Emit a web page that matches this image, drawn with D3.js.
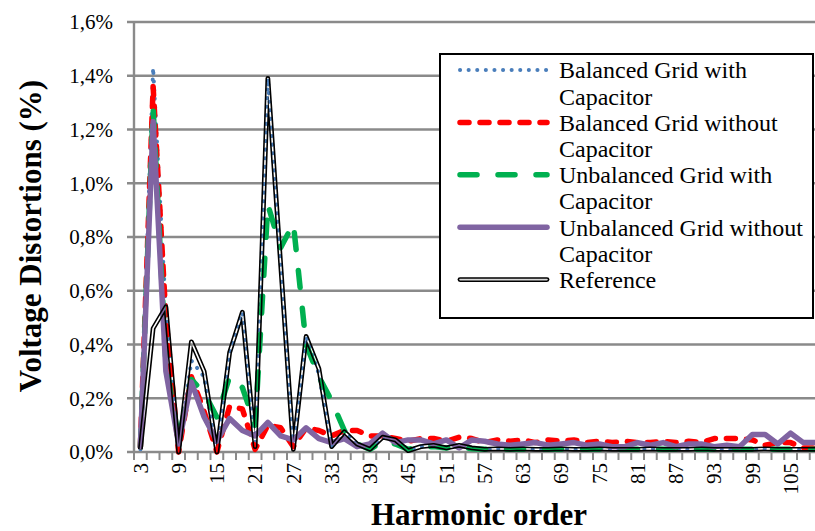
<!DOCTYPE html>
<html><head><meta charset="utf-8">
<script src="https://cdn.jsdelivr.net/npm/d3@7"></script>
<style>
html,body{margin:0;padding:0;background:#fff;overflow:hidden}
svg{display:block;font-family:"Liberation Serif","Times New Roman",serif}
</style></head>
<body><svg id="c" width="815" height="531"></svg>
<script>
const harmonics = [3,5,7,9,11,13,15,17,19,21,23,25,27,29,31,33,35,37,39,41,43,45,47,49,51,53,55,57,59,61,63,65,67,69,71,73,75,77,79,81,83,85,87,89,91,93,95,97,99,101,103,105,107,109];
const xTickLabels = [3,9,15,21,27,33,39,45,51,57,63,69,75,81,87,93,99,105];
const yTicks = [0,0.2,0.4,0.6,0.8,1.0,1.2,1.4,1.6];
const yTickLabels = ["0,0%","0,2%","0,4%","0,6%","0,8%","1,0%","1,2%","1,4%","1,6%"];

const balancedWithCap = [0.01,1.43,0.52,0.00,0.34,0.28,0.00,0.37,0.52,0.02,
 1.39,0.70,0.01,0.43,0.29,0.02,0.075,0.03,0.01,0.055,
 0.045,0.005,0.02,0.025,0.015,0.025,0.015,0.01,0.012,0.01,
 0.012,0.01,0.01,0.012,0.01,0.01,0.012,0.01,0.01,0.01,
 0.012,0.01,0.01,0.01,0.012,0.01,0.01,0.01,0.01,0.012,
 0.01,0.01,0.01,0.01];
const balancedWithoutCap = [0.02,1.36,0.50,0.00,0.28,0.15,0.00,0.17,0.16,0.01,
 0.10,0.09,0.02,0.09,0.08,0.06,0.08,0.08,0.06,0.06,
 0.05,0.04,0.05,0.05,0.04,0.055,0.05,0.035,0.045,0.04,
 0.045,0.035,0.045,0.04,0.045,0.035,0.04,0.035,0.04,0.035,
 0.035,0.04,0.035,0.04,0.035,0.05,0.05,0.05,0.045,0.025,
 0.035,0.035,0.015,0.015];
const unbalancedWithCap = [0.02,1.28,0.33,0.05,0.27,0.22,0.13,0.28,0.24,0.10,
 0.92,0.76,0.85,0.40,0.28,0.19,0.08,0.03,0.01,0.04,
 0.03,0.01,0.02,0.02,0.015,0.02,0.012,0.01,0.01,0.01,
 0.01,0.01,0.01,0.01,0.01,0.01,0.01,0.01,0.01,0.01,
 0.01,0.01,0.01,0.01,0.01,0.01,0.01,0.01,0.01,0.01,
 0.01,0.01,0.01,0.01];
const unbalancedWithoutCap = [0.02,1.23,0.30,0.03,0.26,0.13,0.04,0.125,0.08,0.06,
 0.11,0.06,0.045,0.09,0.05,0.035,0.05,0.02,0.03,0.07,
 0.035,0.045,0.045,0.03,0.045,0.015,0.045,0.04,0.03,0.025,
 0.03,0.035,0.025,0.03,0.035,0.025,0.03,0.02,0.02,0.035,
 0.025,0.035,0.02,0.03,0.03,0.02,0.025,0.02,0.065,0.065,
 0.03,0.07,0.035,0.035];
const reference = [0.01,0.46,0.54,0.00,0.41,0.30,0.00,0.37,0.52,0.02,
 1.39,0.70,0.01,0.43,0.31,0.02,0.075,0.03,0.01,0.055,
 0.045,0.005,0.02,0.025,0.015,0.025,0.015,0.01,0.012,0.01,
 0.012,0.01,0.01,0.012,0.01,0.01,0.012,0.01,0.01,0.01,
 0.012,0.01,0.01,0.01,0.012,0.01,0.01,0.01,0.01,0.012,
 0.01,0.01,0.01,0.01];

const seriesNames = ["Balanced Grid with|Capacitor","Balanced Grid without|Capacitor","Unbalanced Grid with|Capacitor","Unbalanced Grid without|Capacitor","Reference"];

const FONT = '"Liberation Serif","Times New Roman",serif';
const svg = d3.select("#c");
svg.append("rect").attr("width",815).attr("height",531).attr("fill","#fff");

const L = 134, T = 22, B = 452, step = 12.75;
const x = d3.scaleBand().domain(harmonics).range([L, L + step*harmonics.length]).padding(0);
const y = d3.scaleLinear().domain([0,1.6]).range([B,T]);
const cx = h => x(h) + x.bandwidth()/2;
const gridCol = "#8a8a8a";

// gridlines
svg.append("g").selectAll("line").data(yTicks).join("line")
  .attr("x1",127).attr("x2",815).attr("y1",d=>y(d)).attr("y2",d=>y(d))
  .attr("stroke",gridCol).attr("stroke-width",2.4);
// y axis line
svg.append("line").attr("x1",L).attr("x2",L).attr("y1",T).attr("y2",B)
  .attr("stroke",gridCol).attr("stroke-width",2.4);
// x ticks at category boundaries
const bounds = harmonics.map(h=>x(h)).concat([x(harmonics[harmonics.length-1])+x.bandwidth()]);
svg.append("g").selectAll("line").data(bounds).join("line")
  .attr("x1",d=>d).attr("x2",d=>d).attr("y1",B).attr("y2",B+8)
  .attr("stroke",gridCol).attr("stroke-width",2);

// y tick labels
svg.append("g").selectAll("text").data(yTicks).join("text")
  .attr("x",113).attr("y",d=>y(d)).attr("dy","0.35em").attr("text-anchor","end")
  .attr("font-family",FONT).attr("font-size",21).attr("fill","#000").text((d,i)=>yTickLabels[i]);

// x tick labels via axis
const xAxis = d3.axisBottom(x).tickValues(xTickLabels).tickSize(0).tickPadding(0);
const gx = svg.append("g").attr("transform",`translate(0,${B})`).call(xAxis);
gx.attr("font-family",FONT);
gx.select(".domain").remove();
gx.selectAll("text")
  .attr("font-family",FONT)
  .attr("font-size",21).attr("fill","#000")
  .attr("text-anchor","end").attr("transform","rotate(-90)")
  .attr("x",-11).attr("y",0).attr("dy","0.35em");

// titles
svg.append("text").attr("x",479).attr("y",525).attr("text-anchor","middle")
  .attr("font-family",FONT).attr("font-size",31).attr("font-weight","bold").text("Harmonic order");
svg.append("text").attr("transform","translate(41,236) rotate(-90)").attr("text-anchor","middle")
  .attr("font-family",FONT).attr("font-size",31).attr("font-weight","bold").text("Voltage Distortions (%)");

// lines
const line = d3.line().x((d,i)=>cx(harmonics[i])).y(d=>y(d));
const styles = [
  {data:balancedWithCap, stroke:"#4a7ebb", w:4, dash:"0.1,8.5", cap:"round"},
  {data:balancedWithoutCap, stroke:"#ff0000", w:5.5, dash:"9,11", cap:"round"},
  {data:unbalancedWithCap, stroke:"#00b050", w:5.5, dash:"17,21", cap:"round"},
  {data:unbalancedWithoutCap, stroke:"#8064a2", w:5.5, dash:null, cap:"round"}
];
const defs = svg.append("defs");
const plot = svg.append("g");
styles.forEach(s=>{
  plot.append("path").attr("d",line(s.data)).attr("fill","none")
    .attr("stroke",s.stroke).attr("stroke-width",s.w)
    .attr("stroke-dasharray",s.dash).attr("stroke-linecap",s.cap).attr("stroke-linejoin","round");
});
// reference: compound double line with transparent gap
const refD = line(reference);
const m = defs.append("mask").attr("id","refMask").attr("maskUnits","userSpaceOnUse")
  .attr("x",0).attr("y",0).attr("width",815).attr("height",531);
m.append("rect").attr("width",815).attr("height",531).attr("fill","#fff");
m.append("path").attr("d",refD).attr("fill","none").attr("stroke","#000").attr("stroke-width",1.6).attr("stroke-linejoin","round");
plot.append("path").attr("d",refD).attr("fill","none").attr("stroke","#000")
  .attr("stroke-width",4.8).attr("stroke-linejoin","round").attr("mask","url(#refMask)");

// legend
const lg = svg.append("g");
lg.append("rect").attr("x",440).attr("y",54).attr("width",373).attr("height",264)
  .attr("fill","#fff").attr("stroke","#000").attr("stroke-width",2);
const rowH = 26.2, y0 = 70;
seriesNames.forEach((n,i)=>{
  const ly = y0 + i*2*rowH;
  if(i<4){
    const s = styles[i];
    lg.append("line").attr("x1",460).attr("x2",547).attr("y1",ly).attr("y2",ly)
      .attr("stroke",s.stroke).attr("stroke-width",s.w).attr("stroke-dasharray",s.dash).attr("stroke-linecap",s.cap);
  } else {
    lg.append("line").attr("x1",460).attr("x2",547).attr("y1",ly).attr("y2",ly)
      .attr("stroke","#000").attr("stroke-width",4.8).attr("stroke-linecap","round");
    lg.append("line").attr("x1",460).attr("x2",547).attr("y1",ly).attr("y2",ly)
      .attr("stroke","#d9d9d9").attr("stroke-width",1.6).attr("stroke-linecap","round");
  }
  n.split("|").forEach((t,j)=>{
    lg.append("text").attr("x",559).attr("y",ly + j*rowH).attr("dy","0.35em")
      .attr("font-family",FONT).attr("font-size",24).attr("fill","#000").text(t);
  });
});
</script></body></html>
